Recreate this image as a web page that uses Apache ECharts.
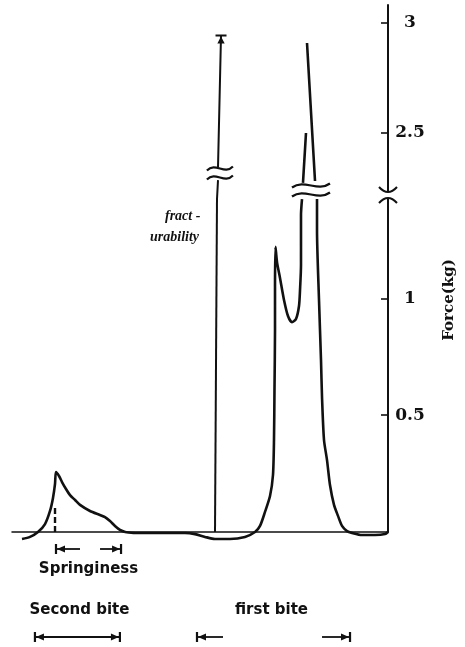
<!DOCTYPE html>
<html>
<head>
<meta charset="utf-8">
<script src="https://cdn.jsdelivr.net/npm/echarts@6/dist/echarts.min.js"></script>
<style>
html, body { margin: 0; padding: 0; background: #fff; }
#chart { width: 465px; height: 647px; }
</style>
</head>
<body>
<div id="chart"></div>
<script>
// chart paper runs right to left: x = time (arbitrary units, 0 at the force axis), y = force (kg)
// the force axis is broken: lower part 0..1.43 kg, upper part 2.24..3.08 kg

var secondBiteTrace = [
  [97.34, -0.030], [95.21, -0.021], [93.09, 0], [91.22, 0.034], [89.89, 0.090], [89.10, 0.146],
  [88.56, 0.206], [88.30, 0.257], [87.50, 0.240], [86.70, 0.214], [85.64, 0.184], [84.57, 0.158],
  [83.24, 0.137], [81.91, 0.116], [79.26, 0.090], [76.60, 0.073], [75.27, 0.064], [73.94, 0.047],
  [72.61, 0.026], [71.28, 0.009], [69.95, 0]
];

var firstBiteLower = [
  [69.95, 0], [67.29, -0.004], [60.64, -0.004], [53.99, -0.004], [51.33, -0.009], [48.67, -0.021],
  [46.01, -0.030], [42.02, -0.030], [38.03, -0.021], [35.37, 0], [34.04, 0.026], [32.71, 0.086],
  [31.38, 0.154], [30.59, 0.244], [30.32, 0.394], [30.19, 0.608], [30.05, 0.865], [30.05, 1.05],
  [29.92, 1.221], [29.52, 1.156], [28.72, 1.088], [27.66, 0.994], [26.60, 0.925], [25.53, 0.899],
  [24.47, 0.912], [23.67, 0.968], [23.40, 1.036], [23.14, 1.143], [23.14, 1.251], [23.14, 1.358],
  [22.87, 1.426], [22.87, '-'],
  [18.88, 1.426], [18.88, 1.293], [18.35, 0.994], [17.82, 0.737], [17.55, 0.578], [17.02, 0.394],
  [16.22, 0.308], [15.43, 0.201], [14.36, 0.116], [13.30, 0.069], [12.23, 0.026], [10.90, 0.004],
  [9.57, -0.004], [6.91, -0.013], [3.46, -0.013], [0.80, -0.009], [0, 0]
];

var firstBiteUpper = [
  [22.61, 2.273], [21.81, 2.5], [21.81, '-'], [21.54, 2.909], [19.41, 2.282]
];

var fractureLower = [[46.01, 0], [45.48, 1.426]];
var fractureUpper = [[45.48, 2.20], [45.21, 2.286], [45.21, '-'], [45.21, 2.345], [44.41, 2.945]];

var springinessStart = [[88.56, 0], [88.56, 0.116]];

var lowerTicks = [0.5, 1];
var upperTicks = [2.5, 3];

// spans marked under the trace (time units)
var springinessSpan = [88.3, 71.0];
var secondBiteSpan = [93.9, 71.3];
var firstBiteSpan = [50.8, 10.1];

// where the break signs sit on the traces (time, kg on the upper scale)
var fractureBreak = [44.7, 2.318];
var peakBreak = [20.48, 2.241];

var lowerMax = 1.4261;
var upperMin = 2.2364;
var upperMax = 3.0818;

var ink = '#111';

function trace(data, grid, extra) {
  return Object.assign({
    type: 'line',
    xAxisIndex: grid,
    yAxisIndex: grid,
    data: data,
    symbol: 'none',
    clip: false,
    smooth: 0.25,
    lineStyle: { color: ink, width: 2.6 },
    z: 3
  }, extra || {});
}

function yAx(grid, min, max, ticks) {
  return {
    gridIndex: grid,
    type: 'value',
    position: 'right',
    min: min,
    max: max,
    axisLine: { show: true, onZero: false, lineStyle: { color: ink, width: 2 } },
    axisTick: { show: true, inside: true, length: 7, customValues: ticks, lineStyle: { color: ink, width: 1.6 } },
    axisLabel: {
      show: true, customValues: ticks, margin: 22, align: 'center', color: ink,
      fontFamily: 'DejaVu Serif', fontWeight: 'bold', fontSize: 17
    },
    splitLine: { show: false }
  };
}

var fractureUpperData = fractureUpper.map(function (p, i) {
  if (i < fractureUpper.length - 1) return p;
  return {
    value: p,
    symbol: 'path://M0,0 L12,0 L12,2 L0,2 Z M6,2 L2,9 L10,9 Z',
    symbolSize: [11, 9],
    symbolOffset: [0, 4],
    itemStyle: { color: ink }
  };
});

var option = {
  animation: false,
  backgroundColor: '#fff',
  grid: [
    { left: 12, right: 77, top: 199, bottom: 115, containLabel: false, outerBoundsMode: 'none' },
    { left: 12, right: 77, top: 5, bottom: 456, containLabel: false, outerBoundsMode: 'none' }
  ],
  xAxis: [
    {
      gridIndex: 0, type: 'value', min: 0, max: 100, inverse: true,
      axisLine: { show: true, onZero: false, lineStyle: { color: ink, width: 1.5 } },
      axisTick: { show: false }, axisLabel: { show: false }, splitLine: { show: false }
    },
    { gridIndex: 1, type: 'value', min: 0, max: 100, inverse: true, show: false }
  ],
  yAxis: [
    yAx(0, 0, lowerMax, lowerTicks),
    yAx(1, upperMin, upperMax, upperTicks)
  ],
  series: [
    trace(secondBiteTrace, 0),
    trace(firstBiteLower, 0),
    trace(firstBiteUpper, 1, { smooth: false }),
    trace(fractureLower, 0, { smooth: false, lineStyle: { color: ink, width: 2 } }),
    trace(fractureUpperData, 1, { smooth: false, showSymbol: true, lineStyle: { color: ink, width: 2 } }),
    trace(springinessStart, 0, { smooth: false, lineStyle: { color: ink, width: 2.4, type: [6, 3] } })
  ]
};

var chart = echarts.init(document.getElementById('chart'), null, { renderer: 'canvas' });
chart.setOption(option);

function at(grid, t, f) {
  return chart.convertToPixel({ gridIndex: grid }, [t, f]);
}

var els = [];

function curve(shape, w) {
  els.push({ type: 'bezierCurve', shape: shape, style: { stroke: ink, lineWidth: w || 2.2, fill: 'none' }, z: 10 });
}
function seg(x1, y1, x2, y2, w) {
  els.push({ type: 'line', shape: { x1: x1, y1: y1, x2: x2, y2: y2 }, style: { stroke: ink, lineWidth: w || 1.8 }, z: 10 });
}
function head(x, y, dir) {
  els.push({ type: 'polygon', shape: { points: [[x, y], [x - dir * 8, y - 3.5], [x - dir * 8, y + 3.5]] }, style: { fill: ink }, z: 10 });
}
function label(text, x, y, font, align) {
  els.push({
    type: 'text', x: x, y: y, z: 10,
    style: { text: text, font: font, fill: ink, align: align || 'center', verticalAlign: 'middle' }
  });
}
function waves(c, w) {
  [-4.5, 4.5].forEach(function (dy) {
    var y = c[1] + dy;
    curve({ x1: c[0] - w / 2, y1: y + 2, cpx1: c[0] - w / 6, cpy1: y - 7, cpx2: c[0] + w / 6, cpy2: y + 7, x2: c[0] + w / 2, y2: y - 2 });
  });
}

// break sign on the force axis
var ax = at(0, 0, 0)[0];
var yUp = at(1, 0, upperMin)[1];
var yLo = at(0, 0, lowerMax)[1];
curve({ x1: ax - 9, y1: yUp - 4, cpx1: ax, cpy1: yUp + 6, x2: ax + 9, y2: yUp - 4 }, 2);
curve({ x1: ax - 9, y1: yLo + 4, cpx1: ax, cpy1: yLo - 6, x2: ax + 9, y2: yLo + 4 }, 2);

// break signs on the traces
waves(at(1, fractureBreak[0], fractureBreak[1]), 26);
waves(at(1, peakBreak[0], peakBreak[1]), 38);

// springiness span
var sy = 549;
var sa = at(0, springinessSpan[0], 0)[0];
var sb = at(0, springinessSpan[1], 0)[0];
seg(sa, sy - 5, sa, sy + 5, 2.2); head(sa + 1, sy, -1); seg(sa, sy, sa + 24, sy);
seg(sb - 21, sy, sb, sy); head(sb - 1, sy, 1); seg(sb, sy - 5, sb, sy + 5, 2.2);
label('Springiness', (sa + sb) / 2, 569, 'bold 15px "DejaVu Sans"');

// bite spans
var by = 637;
var ba = at(0, secondBiteSpan[0], 0)[0];
var bb = at(0, secondBiteSpan[1], 0)[0];
seg(ba, by - 5, ba, by + 5, 2.2); head(ba + 1, by, -1); seg(ba, by, bb, by);
head(bb - 1, by, 1); seg(bb, by - 5, bb, by + 5, 2.2);
label('Second bite', (ba + bb) / 2 + 2, 610, 'bold 15px "DejaVu Sans"');

var fa = at(0, firstBiteSpan[0], 0)[0];
var fb = at(0, firstBiteSpan[1], 0)[0];
seg(fa, by - 5, fa, by + 5, 2.2); head(fa + 1, by, -1); seg(fa, by, fa + 26, by);
seg(fb - 28, by, fb, by); head(fb - 1, by, 1); seg(fb, by - 5, fb, by + 5, 2.2);
label('first bite', (fa + fb) / 2 - 2, 610, 'bold 15px "DejaVu Sans"');

// fracturability note beside its line
var fx = at(0, fractureLower[0][0], 0)[0];
label('fract -', fx - 50, 216, 'italic bold 14px "Liberation Serif"', 'left');
label('urability', fx - 65, 237, 'italic bold 14px "Liberation Serif"', 'left');

// axis title
els.push({
  type: 'text', x: ax + 61, y: 300, rotation: Math.PI / 2, z: 10,
  style: { text: 'Force(kg)', font: 'bold 15px "DejaVu Serif"', fill: ink, align: 'center', verticalAlign: 'middle' }
});

chart.setOption({ graphic: { elements: els } });
</script>
</body>
</html>
